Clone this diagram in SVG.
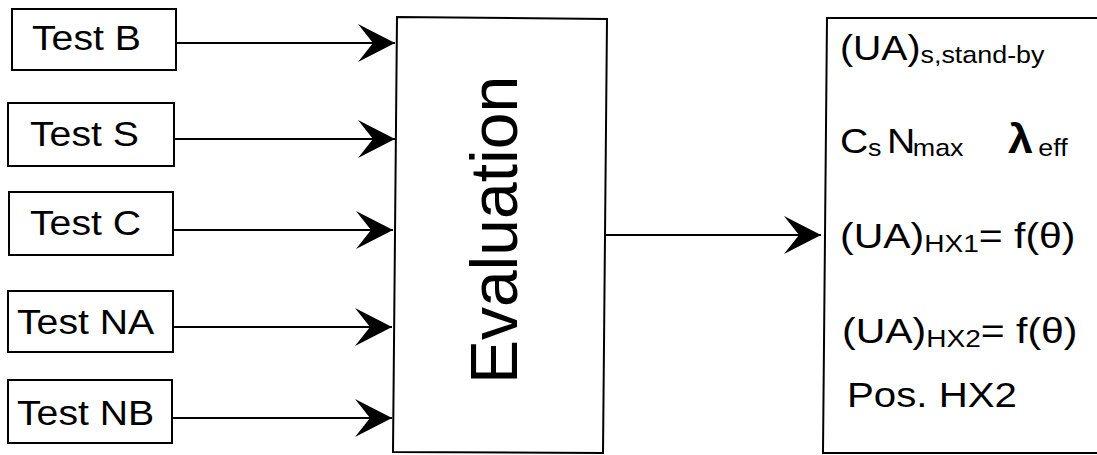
<svg xmlns="http://www.w3.org/2000/svg" width="1097" height="455" viewBox="0 0 1097 455">
<style>
.box{fill:#fff;stroke:#000;stroke-width:2}
.edge{fill:none;stroke:#000;stroke-width:2}
.t{font-family:"Liberation Sans",Arial,sans-serif;font-size:35px;fill:#000}
.sub{font-size:24px}
.ev{font-family:"Liberation Sans",Arial,sans-serif;font-size:66px;fill:#000}
</style>
<defs>
<marker id="ah" markerUnits="userSpaceOnUse" markerWidth="40" markerHeight="40" refX="37" refY="19" orient="auto" viewBox="0 0 40 40">
<path d="M0,0 L37,19 L0,38 L15,19 Z" fill="#000"/>
</marker>
</defs>
<rect width="1097" height="455" fill="#fff"/>
<g id="connectors">
<line class="edge" x1="176" y1="43" x2="395" y2="43" marker-end="url(#ah)"/>
<line class="edge" x1="174" y1="139" x2="395" y2="139" marker-end="url(#ah)"/>
<line class="edge" x1="173" y1="230" x2="393" y2="230" marker-end="url(#ah)"/>
<line class="edge" x1="173" y1="327" x2="392" y2="327" marker-end="url(#ah)"/>
<line class="edge" x1="172" y1="418" x2="392" y2="418" marker-end="url(#ah)"/>
<line class="edge" x1="605" y1="235" x2="821" y2="235" marker-end="url(#ah)"/>
</g>
<g id="testB">
<rect class="box" x="12" y="9" width="164" height="61"/>
<text class="t" transform="translate(32,50) scale(1.12,1)">Test B</text>
</g>
<g id="testS">
<rect class="box" x="8" y="103" width="166" height="63"/>
<text class="t" transform="translate(30,146) scale(1.12,1)">Test S</text>
</g>
<g id="testC">
<rect class="box" x="9" y="192" width="164" height="63"/>
<text class="t" transform="translate(30,235) scale(1.12,1)">Test C</text>
</g>
<g id="testNA">
<rect class="box" x="8" y="291" width="165" height="61"/>
<text class="t" transform="translate(17,334) scale(1.12,1)">Test NA</text>
</g>
<g id="testNB">
<rect class="box" x="8" y="380" width="164" height="63"/>
<text class="t" transform="translate(17,425) scale(1.12,1)">Test NB</text>
</g>
<g id="evaluation">
<path class="box" d="M397,17 L607,19 L603,453 L393,452 Z"/>
<text class="ev" text-anchor="middle" transform="translate(517,230) rotate(-90)">Evaluation</text>
</g>
<g id="results">
<path class="box" d="M1100,18 L827,18 L823,453 L1100,453"/>
<text class="t" transform="translate(840,60) scale(1.12,1)">(UA)<tspan class="sub" dy="3">s,stand-by</tspan></text>
<text class="t" transform="translate(840,153) scale(1.12,1)">C<tspan class="sub" x="25" dy="3">s</tspan><tspan x="42" dy="-3">N</tspan><tspan class="sub" x="65" dy="3">max</tspan><tspan x="150" dy="-3" font-size="40" font-weight="bold">λ</tspan><tspan class="sub" x="177" dy="3" font-size="25">eff</tspan></text>
<text class="t" transform="translate(840,248) scale(1.17,1)">(UA)<tspan class="sub" dy="4">HX1</tspan><tspan dy="-4">= f(θ)</tspan></text>
<text class="t" transform="translate(842,343) scale(1.17,1)">(UA)<tspan class="sub" dy="4">HX2</tspan><tspan dy="-4">= f(θ)</tspan></text>
<text class="t" font-size="37" transform="translate(847,407) scale(1.15,1)">Pos. HX2</text>
</g>
</svg>
